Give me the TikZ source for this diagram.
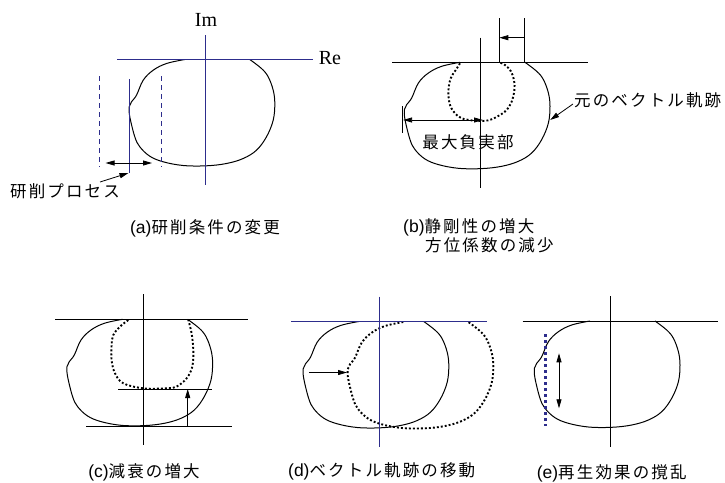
\documentclass[tikz,border=0pt]{standalone}
\usepackage{fontspec}
\setmainfont{Noto Sans CJK JP}
\newfontfamily\jpfont[LetterSpace=13]{Noto Sans CJK JP}
\newfontfamily\sanslat{Liberation Sans}
\newfontfamily\latinserif{Liberation Serif}
\usetikzlibrary{arrows.meta}
\definecolor{axblue}{RGB}{45,45,140}
\definecolor{dotblue}{RGB}{45,45,140}
\tikzset{
  ax/.style={line width=0.8pt, draw=black},
  bax/.style={line width=1.3pt, draw=axblue},
  curv/.style={line width=1pt, draw=black},
  dotc/.style={line width=1.9pt, dash pattern=on 1.9pt off 2.1pt, draw=black},
  arr/.style={-{Triangle[length=9pt,width=5pt]}, line width=0.8pt},
  darr/.style={{Triangle[length=9pt,width=5pt]}-{Triangle[length=9pt,width=5pt]}, line width=0.8pt},
  jp/.style={font=\fontsize{16.5}{18}\selectfont\jpfont, inner sep=0pt},
  lat/.style={font=\fontsize{20}{22}\selectfont\latinserif, inner sep=0pt},
  vloop/.pic={\draw[#1] plot[smooth,tension=0.6] coordinates{(-20.7,0) (-39,4) (-52.3,10.7) (-62.3,20.7) (-69,35.7) (-74,42.3) (-76.3,47.3) (-75.7,57.3) (-70.7,77.3) (-65.7,87.3) (-55.7,96.7) (-42.3,102.3) (-22.3,106) (1,106.3) (21,104) (37.7,99) (51,90.7) (61,77.3) (67.7,60.7) (69.3,44) (67.7,30.7) (62.7,17.3) (56,9) (44.3,0)};},
}
\newcommand\capl[1]{{\sanslat\fontsize{17.5}{18}\selectfont(#1)}}
\begin{document}
\begin{tikzpicture}[x=1pt,y=-1pt]
\useasboundingbox (0,0) rectangle (725,482);
% ---------- (a)
\begin{scope}[shift={(205.5,59.5)}]
  \pic {vloop=curv};
  \draw[bax] (-88.5,0) -- (107.5,0);
  \draw[bax] (0,-24.5) -- (0,125.5);
  \node[lat] (im) at (0.5,-39.5) {Im};
  \node[lat] (re) at (124.5,-1) {Re};
  \draw[bax] (-76,19.5) coordinate (pa) -- (-76,113.5) coordinate (pb);
  \draw[bax, line width=1.1pt, dash pattern=on 5pt off 4pt] (-106,16.5) -- (-106,107.5);
  \draw[bax, line width=1.1pt, dash pattern=on 5pt off 4pt] (-44,16.5) -- (-44,107.5);
  \coordinate (da1) at (-100,103.5);
  \coordinate (da2) at (-53.5,103.5);
  \draw[darr] (da1) -- (da2);
\end{scope}
\node[jp] (lba) at (65,191) {研削プロセス};
\coordinate (lbat) at (100,182);
\draw[arr] (lbat) -- ([xshift=-1pt]pb);
\node[jp] (capa) at (205,228) {\capl{a}研削条件の変更};
% ---------- (b)
\begin{scope}[shift={(480.7,62.3)}]
  \pic {vloop=curv};
  \draw[dotc] plot[smooth,tension=0.6] coordinates{(-20.7,1) (-24,6.3) (-30,16) (-32.3,28) (-31.7,38) (-30,44.7) (-25.7,51) (-19,56) (-7.3,58.3) (2.7,58.7) (11,57) (19.3,52.7) (26,47.7) (31,39.3) (33.7,27.7) (33.3,17.7) (30,8.7) (24.3,2.7) (18.6,0)};
  \draw[ax] (-88.4,0) -- (107,0);
  \draw[ax] (0,-24.6) -- (0,126);
  \draw[ax] (18.6,-44.3) coordinate (v1) -- (18.6,0);
  \draw[ax] (43.6,-44.3) coordinate (v2) -- (43.6,0);
  \coordinate (ba1) at (43.6,-24.6);
  \coordinate (ba2) at (18.6,-24.6);
  \draw[arr] (ba1) -- (ba2);
  \draw[ax] (-78,43.7) -- (-78,70.7);
  \coordinate (bm1) at (-77.6,57.7);
  \coordinate (bm2) at (2.3,57.7);
  \draw[darr] (bm1) -- (bm2);
  \coordinate (bcv) at (69.5,57.7);
\end{scope}
\node[jp] (lbb) at (468,142) {最大負実部};
\node[jp, anchor=west] (lbc) at (574,100) {元のベクトル軌跡};
\coordinate (lbct) at (573,104);
\draw[arr] (lbct) -- (bcv);
\node[jp, anchor=west] (capb1) at (403,227) {\capl{b}静剛性の増大};
\node[jp, anchor=west] (capb2) at (425,245) {方位係数の減少};
% ---------- (c)
\begin{scope}[shift={(143.3,319.3)}]
  \pic {vloop=curv};
  \draw[dotc] plot[smooth,tension=0.6] coordinates{(-15,0.7) (-23.3,7.3) (-30,15.7) (-31.7,25.7) (-31.7,40.7) (-28.3,54) (-20,64) (0,69) (23.3,69) (33.3,67.3) (43.3,59) (49,47.3) (50,30.7) (48.3,14) (45,0.7)};
  \draw[ax] (-88.3,0) -- (104.7,0);
  \draw[ax] (0,-25.3) -- (0,125.7);
  \draw[ax] (-25.3,69.7) -- (68.7,69.7);
  \draw[ax] (-57.3,107.4) -- (88.4,107.4);
  \coordinate (ca1) at (44.4,107.4);
  \coordinate (ca2) at (44.4,69.7);
  \draw[arr] (ca1) -- (ca2);
\end{scope}
\node[jp] (capc) at (144,472) {\capl{c}減衰の増大};
% ---------- (d)
\begin{scope}[shift={(379.5,321.5)}]
  \pic {vloop=curv};
  \pic at (44.5,0.5) {vloop=dotc};
  \draw[bax] (-88.5,0) -- (107.5,0);
  \draw[bax] (0,-25) -- (0,125);
  \coordinate (dd1) at (-70.7,51);
  \coordinate (dd2) at (-32.5,51);
  \draw[arr] (dd1) -- (dd2);
\end{scope}
\node[jp] (capd) at (381.7,471) {\capl{d}ベクトル軌跡の移動};
% ---------- (e)
\begin{scope}[shift={(610.7,321)}]
  \pic {vloop=curv};
  \draw[ax] (-88,0) -- (107,0);
  \draw[ax] (0,-25) -- (0,125.7);
  \draw[draw=dotblue, line width=3pt, dash pattern=on 3pt off 3pt] (-65.7,13.3) -- (-65.7,105);
  \coordinate (ee1) at (-51.7,32.3);
  \coordinate (ee2) at (-51.7,87.3);
  \draw[darr] (ee1) -- (ee2);
\end{scope}
\node[jp] (cape) at (611.7,473) {\capl{e}再生効果の撹乱};
\end{tikzpicture}
\end{document}
